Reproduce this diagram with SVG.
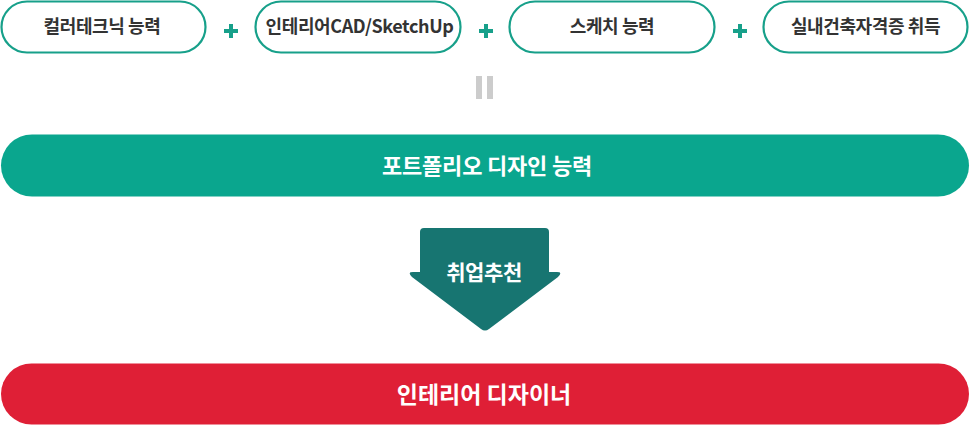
<svg xmlns="http://www.w3.org/2000/svg" width="970" height="426" viewBox="0 0 970 426">
<style>
.pill{fill:#ffffff;stroke:#17a08a;stroke-width:2.2}
.pt{font-family:"Noto Sans CJK KR","Noto Sans",sans-serif;font-weight:700;font-size:18px;fill:#333333;text-anchor:middle;letter-spacing:-0.4px}
.plus{fill:#17a08a}
.eq{fill:#cccccc}
.wt{font-family:"Noto Sans CJK KR","Noto Sans",sans-serif;font-weight:700;fill:#ffffff;text-anchor:middle}
</style>
<rect width="970" height="426" fill="#ffffff"/>
<g id="node-color"><rect class="pill" x="1.5" y="1.5" width="204" height="51" rx="25.5"/><text class="pt" x="102" y="33">컬러테크닉 능력</text></g>
<g id="node-cad"><rect class="pill" x="255.5" y="1.5" width="205" height="51" rx="25.5"/><text class="pt" x="359.5" y="33" letter-spacing="-0.9">인테리어CAD/SketchUp</text></g>
<g id="node-sketch"><rect class="pill" x="509.5" y="1.5" width="205" height="51" rx="25.5"/><text class="pt" x="612" y="33">스케치 능력</text></g>
<g id="node-cert"><rect class="pill" x="763.5" y="1.5" width="204" height="51" rx="25.5"/><text class="pt" x="865.5" y="33">실내건축자격증 취득</text></g>
<g id="connectors">
<g id="plus1" class="plus"><rect x="224" y="29" width="14" height="4"/><rect x="229" y="24" width="4" height="14"/></g>
<g id="plus2" class="plus"><rect x="479" y="29" width="14" height="4"/><rect x="484" y="24" width="4" height="14"/></g>
<g id="plus3" class="plus"><rect x="733" y="29" width="14" height="4"/><rect x="738" y="24" width="4" height="14"/></g>
<g id="equals" class="eq"><rect x="476" y="76" width="6" height="23"/><rect x="487" y="76" width="6" height="23"/></g>
<g id="arrow"><path d="M424 228 H545 Q549 228 549 232 V272 H557 Q563 272 558 277 L489 329 Q485 332 481 329 L412 277 Q407 272 413 272 H420 V232 Q420 228 424 228 Z" fill="#177571"/><text class="wt" x="484" y="280" font-size="21" letter-spacing="-0.4">취업추천</text></g>
</g>
<g id="node-portfolio"><rect x="1" y="134.5" width="968" height="62" rx="31" fill="#0aa68e"/><text class="wt" x="487" y="173.5" font-size="22" letter-spacing="-0.2">포트폴리오 디자인 능력</text></g>
<g id="node-designer"><rect x="1" y="363.5" width="968" height="61" rx="30.5" fill="#df1f36"/><text class="wt" x="484" y="402.5" font-size="23">인테리어 디자이너</text></g>
</svg>
